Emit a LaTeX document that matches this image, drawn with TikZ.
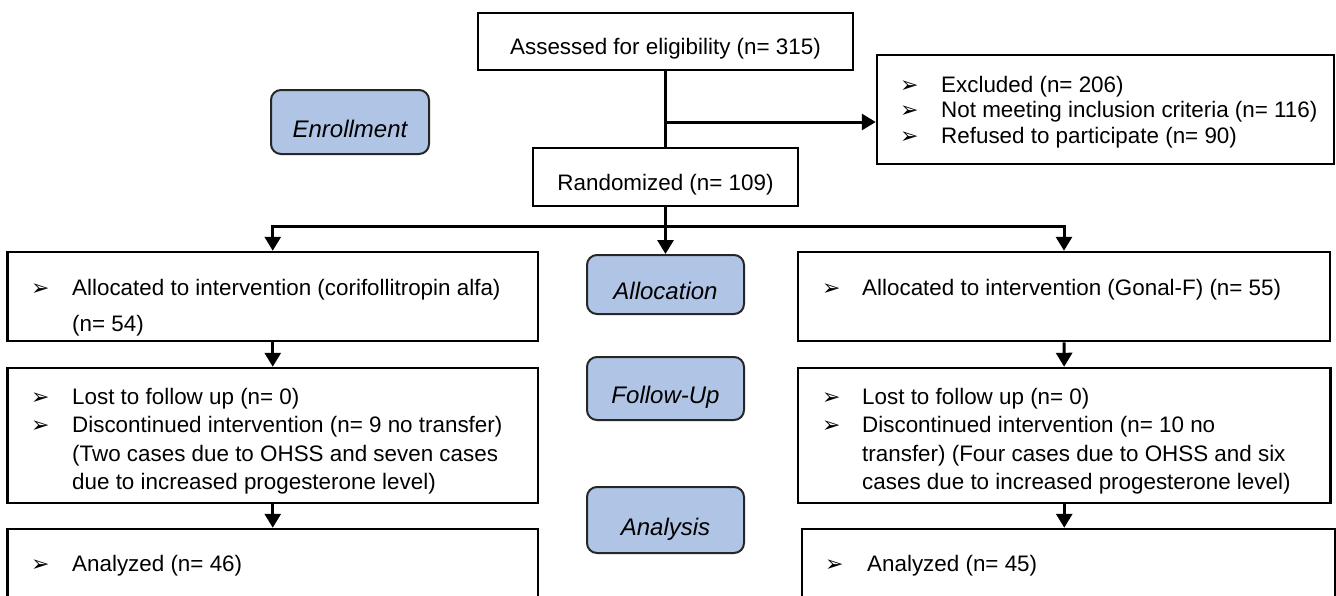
\documentclass[tikz,border=0pt]{standalone}
\usepackage{fontspec}
\setmainfont{Liberation Sans}
\newfontfamily\dejavu{DejaVu Sans}
\usetikzlibrary{arrows.meta}
\definecolor{stageblue}{RGB}{176,197,229}
\tikzset{
  box/.style={draw=black, line width=2.5pt, rectangle, inner sep=0pt, fill=white},
  stage/.style={draw=black!85, line width=2pt, rounded corners=10pt, fill=stageblue,
    inner sep=0pt, font=\fontsize{24}{28}\selectfont\itshape, text height=30pt, text depth=0pt},
  ctext/.style={font=\fontsize{22.4}{27}\selectfont, text depth=0pt},
  txt/.style={anchor=base west, inner sep=0pt, font=\fontsize{22.4}{27}\selectfont},
  bul/.style={anchor=base west, inner sep=0pt, font=\dejavu\fontsize{22}{24}\selectfont},
  conn/.style={line width=3pt, -{Triangle[width=16pt,length=14pt]}},
  plainline/.style={line width=3pt}
}
\newcommand\bitem[5]{\node[bul] (#1b) at (#2,#4) {➢}; \node[txt] (#1) at (#3,#4) {#5};}
\newcommand\pitem[4]{\node[txt] (#1) at (#2,#3) {#4};}
\begin{document}
\begin{tikzpicture}[x=1pt,y=-1pt]
\useasboundingbox (0,0) rectangle (1336,595);
\clip (0,0) rectangle (1336,595);
\fill[white] (0,0) rectangle (1336,595);

% main boxes
\node[box, ctext, minimum width=375pt, minimum height=57pt, text height=25pt] (assess) at (665.5,41.5) {Assessed for eligibility (n= 315)};
\node[box, minimum width=457pt, minimum height=109pt] (excl) at (1105.5,109.5) {};
\node[box, ctext, minimum width=265pt, minimum height=58pt, text height=27pt] (rand) at (665.5,177) {Randomized (n= 109)};
\node[box, minimum width=530.5pt, minimum height=89pt] (allocL) at (272.75,296.5) {};
\node[box, minimum width=532pt, minimum height=89pt] (allocR) at (1064,296.5) {};
\node[box, minimum width=530.5pt, minimum height=135pt] (followL) at (272.75,435.5) {};
\node[box, minimum width=532.5pt, minimum height=135pt] (followR) at (1064.25,435.5) {};
\node[box, minimum width=530.5pt, minimum height=91pt] (analL) at (272.75,574.5) {};
\node[box, minimum width=533pt, minimum height=91pt] (analR) at (1068.5,574.5) {};

% stage labels
\node[stage, minimum width=158pt, minimum height=64pt] (enroll) at (350,122) {Enrollment};
\node[stage, minimum width=157pt, minimum height=59pt] (alloc) at (665.5,284.5) {Allocation};
\node[stage, minimum width=157pt, minimum height=63pt] (follow) at (665.5,388.5) {Follow-Up};
\node[stage, minimum width=157pt, minimum height=66pt] (anal) at (665.5,520) {Analysis};

% texts
\bitem{exA}{900}{941}{92}{Excluded (n= 206)}
\bitem{exB}{900}{941}{117.5}{Not meeting inclusion criteria (n= 116)}
\bitem{exC}{900}{941}{143}{Refused to participate (n= 90)}

\bitem{alA}{31}{72}{295}{Allocated to intervention (corifollitropin alfa)}
\pitem{alB}{72}{331}{(n= 54)}
\bitem{arA}{822}{862}{295}{Allocated to intervention (Gonal-F) (n= 55)}

\bitem{flA}{31}{72}{404}{Lost to follow up (n= 0)}
\bitem{flB}{31}{72}{432.5}{Discontinued intervention (n= 9 no transfer)}
\pitem{flC}{72}{461}{(Two cases due to OHSS and seven cases}
\pitem{flD}{72}{489.5}{due to increased progesterone level)}

\bitem{frA}{822}{862}{404}{Lost to follow up (n= 0)}
\bitem{frB}{822}{862}{432.5}{Discontinued intervention (n= 10 no}
\pitem{frC}{862}{461}{transfer) (Four cases due to OHSS and six}
\pitem{frD}{862}{489.5}{cases due to increased progesterone level)}

\bitem{anA}{31}{72}{571.5}{Analyzed (n= 46)}
\bitem{anB}{825}{867}{571.5}{Analyzed (n= 45)}

% connectors
\coordinate (exJ) at (665.5,122);
\coordinate (split) at (665.5,226);
\draw[plainline] (assess) -- (rand);
\draw[conn] (exJ) -- (exJ -| excl.west);
\draw[conn] (rand) -- (alloc);
\draw[conn] (split) -| (allocL.north);
\draw[conn] (split) -| (allocR.north);
\draw[conn] (allocL) -- (followL);
\draw[conn] (allocR) -- (followR);
\draw[conn] (followL) -- (analL.north -| followL.south);
\draw[conn] (followR.south) -- (followR.south |- analR.north);
\end{tikzpicture}
\end{document}
